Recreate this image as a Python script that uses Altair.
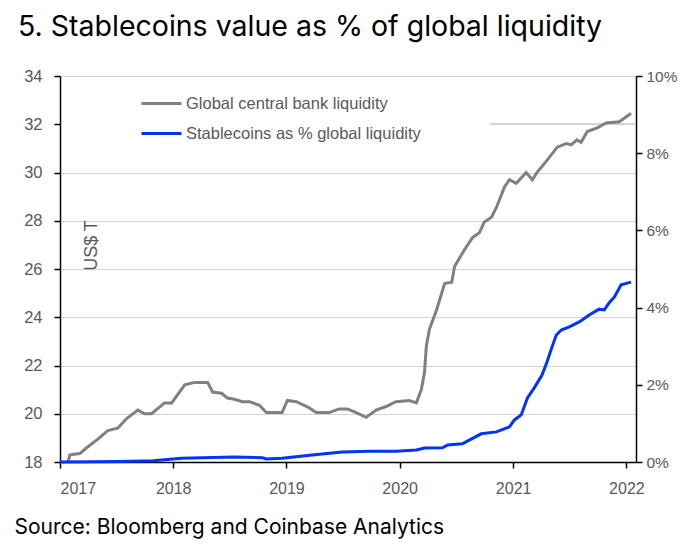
import altair as alt
import pandas as pd

# Global central bank liquidity (US$ T)
gcb_dates = ["2017-01-27","2017-02-02","2017-03-06","2017-03-29","2017-05-03","2017-06-04","2017-07-06",
             "2017-08-04","2017-09-09","2017-10-01","2017-10-23","2017-12-04","2017-12-27","2018-02-07",
             "2018-03-11","2018-04-22","2018-05-08","2018-06-06","2018-06-25","2018-07-17","2018-08-12",
             "2018-09-04","2018-10-06","2018-10-28","2018-12-18","2019-01-04","2019-02-02","2019-03-15",
             "2019-04-07","2019-05-19","2019-06-20","2019-07-16","2019-08-14","2019-09-15","2019-10-17",
             "2019-11-18","2019-12-20","2020-02-01","2020-02-24","2020-03-11","2020-03-21","2020-03-27",
             "2020-04-06","2020-04-29","2020-05-25","2020-06-17","2020-06-26","2020-07-28","2020-08-23",
             "2020-09-14","2020-09-30","2020-10-23","2020-11-08","2020-12-04","2020-12-20","2021-01-11",
             "2021-02-12","2021-03-04","2021-03-19","2021-04-20","2021-05-23","2021-06-21","2021-07-07",
             "2021-07-26","2021-08-08","2021-08-28","2021-09-29","2021-10-28","2021-12-09","2021-12-25",
             "2022-01-16"]
gcb_values = [18.0,18.3,18.35,18.6,18.95,19.3,19.4,
              19.8,20.15,20.0,20.0,20.45,20.45,21.2,
              21.3,21.3,20.9,20.85,20.65,20.6,20.5,
              20.5,20.35,20.05,20.05,20.55,20.5,20.25,
              20.05,20.05,20.2,20.2,20.05,19.85,20.15,
              20.3,20.5,20.55,20.45,21.0,21.7,22.8,
              23.5,24.3,25.4,25.45,26.1,26.8,27.3,
              27.5,27.95,28.15,28.55,29.4,29.7,29.55,
              30.0,29.7,30.0,30.5,31.05,31.2,31.15,
              31.35,31.25,31.7,31.85,32.05,32.1,32.25,
              32.45]

# Stablecoins as % of global liquidity
sc_dates = ["2017-01-01","2017-07-12","2017-10-28","2017-12-04","2018-01-28","2018-07-17","2018-10-16",
            "2018-10-28","2018-12-18","2019-03-25","2019-06-30","2019-09-25","2019-12-20","2020-02-24",
            "2020-03-21","2020-05-18","2020-06-04","2020-07-21","2020-09-20","2020-11-08","2020-12-20",
            "2021-01-05","2021-01-27","2021-02-16","2021-03-10","2021-04-04","2021-04-20","2021-05-05",
            "2021-05-20","2021-06-05","2021-07-01","2021-08-02","2021-09-03","2021-10-05","2021-10-22",
            "2021-11-06","2021-11-23","2021-12-15","2022-01-16"]
sc_values = [0.0,0.01,0.03,0.06,0.10,0.13,0.11,
             0.08,0.10,0.18,0.26,0.28,0.28,0.31,
             0.36,0.37,0.44,0.47,0.73,0.78,0.91,
             1.09,1.22,1.66,1.92,2.25,2.59,2.95,
             3.29,3.42,3.50,3.63,3.81,3.96,3.94,
             4.12,4.27,4.59,4.66]

series_names = ["Global central bank liquidity", "Stablecoins as % global liquidity"]
series_colors = ["#808080", "#0033ff"]
left_ticks = [18, 20, 22, 24, 26, 28, 30, 32, 34]
right_ticks = [0, 2, 4, 6, 8, 10]
year_ticks = [2017, 2018, 2019, 2020, 2021, 2022]

gcb = pd.DataFrame({"date": gcb_dates, "value": gcb_values, "series": series_names[0]})
sc = pd.DataFrame({"date": sc_dates, "value": sc_values, "series": series_names[1]})

LFONT = "Liberation Sans"
LABEL_GREY = "#595959"

x_enc = alt.X("date:T",
              scale=alt.Scale(domain=[alt.DateTime(year=2017, month=1, date=1),
                                      alt.DateTime(year=2022, month=2, date=1)]),
              axis=alt.Axis(values=[alt.DateTime(year=y, month=1, date=1) for y in year_ticks],
                            format="%Y", grid=False, domainColor="black", domainWidth=1.5,
                            tickColor="black", tickSize=6, tickWidth=1.5,
                            labelColor=LABEL_GREY, labelFont=LFONT, labelFontSize=16,
                            labelPadding=12,
                            title="Source: Bloomberg and Coinbase Analytics",
                            titleX=-46, titleY=71, titleAlign="left", titleBaseline="alphabetic",
                            titleFont="Inter", titleFontSize=21, titleFontWeight="normal",
                            titleColor="black"))

color_enc = alt.Color("series:N",
                      scale=alt.Scale(domain=series_names, range=series_colors),
                      legend=alt.Legend(orient="none", legendX=80, legendY=6, title=None,
                                        symbolType="stroke", symbolSize=1600, symbolStrokeWidth=3,
                                        labelFont=LFONT, labelFontSize=16.5, labelColor=LABEL_GREY,
                                        labelOffset=3, rowPadding=-1, padding=0, labelLimit=400))

gcb_line = alt.Chart(gcb).mark_line(strokeWidth=3).encode(
    x=x_enc,
    y=alt.Y("value:Q",
            scale=alt.Scale(domain=[18, 34], nice=False, zero=False),
            axis=alt.Axis(values=left_ticks, grid=True, gridColor="#d4d4d4",
                          gridOpacity={"expr": "datum.value == 32 ? 0 : 1"},
                          domainColor="black", domainWidth=1.5, tickColor="black",
                          tickSize=6, tickWidth=1.5,
                          labelColor=LABEL_GREY, labelFont=LFONT, labelFontSize=16.5,
                          labelPadding=12,
                          title="US$ T", titleX=31, titleY=169, titleAngle=270,
                          titleAlign="center", titleBaseline="middle",
                          titleFont=LFONT, titleFontSize=18, titleFontWeight="normal",
                          titleColor=LABEL_GREY)),
    color=color_enc,
)

grid32 = alt.Chart(gcb).mark_rule(color="#d4d4d4", strokeWidth=1).encode(
    x=alt.datum(alt.DateTime(year=2020, month=10, date=20)),
    x2=alt.value(576),
    y=alt.datum(32),
)

sc_line = alt.Chart(sc).mark_line(strokeWidth=3).encode(
    x=x_enc,
    y=alt.Y("value:Q",
            scale=alt.Scale(domain=[0, 10], nice=False),
            axis=alt.Axis(orient="right", values=right_ticks, labelExpr="datum.value + '%'",
                          grid=False, domainColor="black", domainWidth=1.5, tickColor="black",
                          tickSize=6, tickWidth=1.5,
                          labelColor=LABEL_GREY, labelFont=LFONT, labelFontSize=15.5,
                          labelPadding=4, title=None)),
    color=color_enc,
)

left = alt.layer(grid32, gcb_line)

chart = alt.layer(left, sc_line).resolve_scale(y="independent").properties(
    width=576, height=386,
    padding={"left": 52, "top": 68, "right": 42, "bottom": 88},
    autosize=alt.AutoSizeParams(type="none"),
    title=alt.TitleParams("5. Stablecoins value as % of global liquidity", anchor="start",
                          frame="group", dx=-42, offset=27, font="Inter", fontSize=28.5,
                          fontWeight="normal", color="black"),
).configure_view(stroke=None)

chart.save("out.html", embed_options={"renderer": "svg", "actions": False})
